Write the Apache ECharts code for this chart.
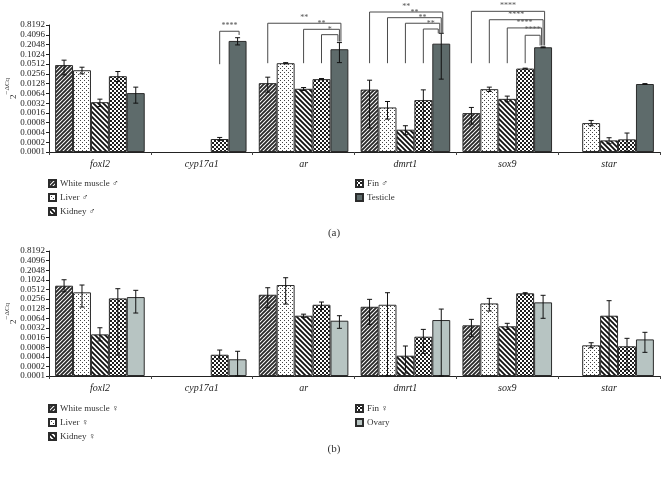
<!DOCTYPE html>
<html><head><meta charset="utf-8">
<script src="https://cdn.jsdelivr.net/npm/echarts@6/dist/echarts.min.js"></script>
<style>html,body{margin:0;padding:0;background:#fff}#c{width:668px;height:479px}</style>
</head><body><div id="c"></div>
<script>
// ---------- data ----------
const categories = ['foxl2', 'cyp17a1', 'ar', 'dmrt1', 'sox9', 'star'];
const tickLabels = ['0.0001','0.0002','0.0004','0.0008','0.0016','0.0032','0.0064','0.0128','0.0256','0.0512','0.1024','0.2048','0.4096','0.8192'];
const namesA = ['White muscle ♂', 'Liver ♂', 'Kidney ♂', 'Fin ♂', 'Testicle'];
const namesB = ['White muscle ♀', 'Liver ♀', 'Kidney ♀', 'Fin ♀', 'Ovary'];

// (a) male
const wmA      = [0.0476, null, 0.01325, 0.00839, 0.00158, null];
const wmA_lo   = [0.0239, null, 0.0070, 0.000546, 0.000726, null];
const wmA_hi   = [0.0676, null, 0.0202, 0.01632, 0.00236, null];
const liverA    = [0.0331, null, 0.0545, 0.00236, 0.00863, 0.000778];
const liverA_lo = [0.0256, null, 0.0523, 0.00103, 0.0073, 0.000645];
const liverA_hi = [0.0410, null, 0.0568, 0.0036, 0.00997, 0.000938];
const kidneyA    = [0.00343, null, 0.00887, 0.000486, 0.00434, 0.000228];
const kidneyA_lo = [0.00253, null, 0.00783, 0.000341, 0.00353, 0.00018];
const kidneyA_hi = [0.00425, null, 0.0097, 0.000645, 0.00527, 0.000275];
const finA    = [0.0217, 0.000251, 0.0176, 0.00397, 0.0372, 0.000245];
const finA_lo = [0.0148, 0.000228, 0.0169, 0.000112, 0.0362, 0.0001];
const finA_hi = [0.0302, 0.000281, 0.01835, 0.00821, 0.0383, 0.000384];
const testicle    = [0.00653, 0.2646, 0.1468, 0.2179, 0.1687, 0.01245];
const testicle_lo = [0.0032, 0.1992, 0.0568, 0.0176, 0.1640, 0.0121];
const testicle_hi = [0.00997, 0.3328, 0.2353, 0.4547, 0.1734, 0.0128];

// (b) female
const wmB      = [0.0671, null, 0.035, 0.0147, 0.00386, null];
const wmB_lo   = [0.0433, null, 0.0137, 0.00414, 0.0017, null];
const wmB_hi   = [0.1031, null, 0.058, 0.0251, 0.00593, null];
const liverB    = [0.0416, null, 0.0705, 0.0170, 0.0187, 0.000913];
const liverB_lo = [0.0144, null, 0.0179, 0.0001, 0.0108, 0.000768];
const liverB_hi = [0.0705, null, 0.1193, 0.0405, 0.0269, 0.0011];
const kidneyB    = [0.00201, null, 0.00772, 0.000432, 0.0036, 0.00772];
const kidneyB_lo = [0.00125, null, 0.00686, 0.000123, 0.00288, 0.0001];
const kidneyB_hi = [0.00324, null, 0.00863, 0.000869, 0.00446, 0.0228];
const finB    = [0.0269, 0.000463, 0.0170, 0.0017, 0.0388, 0.000851];
const finB_lo = [0.000453, 0.000341, 0.0122, 0.000513, 0.0372, 0.000154];
const finB_hi = [0.0541, 0.00065, 0.0207, 0.00288, 0.0405, 0.00151];
const ovary    = [0.0296, 0.000334, 0.00538, 0.00565, 0.0202, 0.0014];
const ovary_lo = [0.00937, 0.0001, 0.00311, 0.0001, 0.0064, 0.00055];
const ovary_hi = [0.0481, 0.000594, 0.00772, 0.01245, 0.0336, 0.00233];

// significance brackets in (a): category, from series, label
const sigCategory = ['cyp17a1', 'ar', 'ar', 'ar', 'dmrt1', 'dmrt1', 'dmrt1', 'dmrt1', 'sox9', 'sox9', 'sox9', 'sox9'];
const sigFrom     = [3, 0, 2, 3, 0, 1, 2, 3, 0, 1, 2, 3];
const sigLabel    = ['****', '**', '**', '*', '**', '**', '**', '**', '****', '****', '****', '****'];
// bracket heights in axis steps (log2 above 0.0001)
const sigTop      = [12.36, 13.18, 12.56, 12.01, 14.33, 13.75, 13.18, 12.59, 14.40, 13.54, 12.70, 11.95];
const sigFootL    = [8.99, 9.09, 9.09, 9.09, 9.09, 9.09, 9.09, 9.09, 9.09, 9.09, 9.09, 9.09];
const sigFootR    = [11.98, 11.3, 11.3, 11.3, 12.15, 12.15, 12.15, 12.15, 10.9, 10.9, 10.9, 10.9];
const sigRank     = [0, 0, 1, 2, 0, 1, 2, 3, 0, 1, 2, 3];

// ---------- helpers ----------
const BASE = 0.0001;
const L = v => (v == null ? null : Math.log2(v / BASE));

function pattern(kind) {
  const c = document.createElement('canvas');
  let ctx;
  if (kind === 'wm') {
    c.width = c.height = 4; ctx = c.getContext('2d');
    ctx.fillStyle = '#fff'; ctx.fillRect(0, 0, 4, 4);
    ctx.strokeStyle = '#2a2a2a'; ctx.lineWidth = 1.9;
    ctx.beginPath();
    ctx.moveTo(-1, 5); ctx.lineTo(5, -1);
    ctx.moveTo(-1, 1); ctx.lineTo(1, -1);
    ctx.moveTo(3, 5); ctx.lineTo(5, 3);
    ctx.stroke();
  } else if (kind === 'liver') {
    c.width = c.height = 4; ctx = c.getContext('2d');
    ctx.fillStyle = '#fff'; ctx.fillRect(0, 0, 4, 4);
    ctx.fillStyle = '#444';
    ctx.fillRect(0, 0, 1, 1); ctx.fillRect(2, 2, 1, 1);
  } else if (kind === 'kidney') {
    c.width = c.height = 5; ctx = c.getContext('2d');
    ctx.fillStyle = '#fff'; ctx.fillRect(0, 0, 5, 5);
    ctx.strokeStyle = '#111'; ctx.lineWidth = 1.8;
    ctx.beginPath();
    ctx.moveTo(-1, -1); ctx.lineTo(6, 6);
    ctx.moveTo(-1, 4); ctx.lineTo(1, 6);
    ctx.moveTo(4, -1); ctx.lineTo(6, 1);
    ctx.stroke();
  } else if (kind === 'fin') {
    c.width = c.height = 4; ctx = c.getContext('2d');
    ctx.fillStyle = '#1e1e1e'; ctx.fillRect(0, 0, 4, 4);
    ctx.fillStyle = '#fff';
    ctx.fillRect(0, 0, 2, 2); ctx.fillRect(2, 2, 2, 2);
  }
  return { image: c, repeat: 'repeat' };
}
const fills = [pattern('wm'), pattern('liver'), pattern('kidney'), pattern('fin')];
const TESTICLE_COLOR = '#5e6b6b';
const OVARY_COLOR = '#b7c4c2';
const SERIF = "'Liberation Serif', 'DejaVu Serif', serif";

const groupA = {
  names: namesA,
  vals: [wmA, liverA, kidneyA, finA, testicle],
  lo: [wmA_lo, liverA_lo, kidneyA_lo, finA_lo, testicle_lo],
  hi: [wmA_hi, liverA_hi, kidneyA_hi, finA_hi, testicle_hi],
  last: TESTICLE_COLOR
};
const groupB = {
  names: namesB,
  vals: [wmB, liverB, kidneyB, finB, ovary],
  lo: [wmB_lo, liverB_lo, kidneyB_lo, finB_lo, ovary_lo],
  hi: [wmB_hi, liverB_hi, kidneyB_hi, finB_hi, ovary_hi],
  last: OVARY_COLOR
};

const NS = 5, CAT_GAP = 0.12;
function barCenter(api, cat, si) {
  const c = api.coord([cat, 0]);
  const bw = api.size([1, 0])[0];
  const barW = bw * (1 - CAT_GAP) / NS;
  return c[0] - bw * (1 - CAT_GAP) / 2 + (si + 0.5) * barW;
}

const series = [];
[groupA, groupB].forEach((g, gi) => {
  g.vals.forEach((arr, si) => {
    series.push({
      type: 'bar', name: g.names[si], xAxisIndex: gi, yAxisIndex: gi,
      data: arr.map(L),
      barGap: '0%', barCategoryGap: (CAT_GAP * 100) + '%',
      itemStyle: { color: si < 4 ? fills[si] : g.last, borderColor: '#2b2b2b', borderWidth: 1 },
      emphasis: { disabled: true }, silent: true
    });
  });
  const errData = [];
  g.vals.forEach((arr, si) => {
    arr.forEach((v, ci) => {
      if (v != null) errData.push([ci, L(g.lo[si][ci]), L(g.hi[si][ci]), si]);
    });
  });
  series.push({
    type: 'custom', xAxisIndex: gi, yAxisIndex: gi, z: 5, silent: true,
    data: errData,
    renderItem(params, api) {
      const cat = api.value(0), si = api.value(3);
      const x = barCenter(api, cat, si);
      const y1 = api.coord([cat, api.value(1)])[1];
      const y2 = api.coord([cat, api.value(2)])[1];
      const st = { stroke: '#111', lineWidth: 1 };
      return { type: 'group', children: [
        { type: 'line', shape: { x1: x, y1: y1, x2: x, y2: y2 }, style: st },
        { type: 'line', shape: { x1: x - 2.5, y1: y1, x2: x + 2.5, y2: y1 }, style: st },
        { type: 'line', shape: { x1: x - 2.5, y1: y2, x2: x + 2.5, y2: y2 }, style: st }
      ]};
    }
  });
});

// significance brackets
series.push({
  type: 'custom', xAxisIndex: 0, yAxisIndex: 0, z: 6, silent: true, clip: false,
  data: sigCategory.map((c, i) => [categories.indexOf(c), sigFrom[i], sigTop[i], sigFootL[i], sigFootR[i], sigRank[i]]),
  renderItem(params, api) {
    const cat = api.value(0);
    const x1 = barCenter(api, cat, api.value(1));
    const x2 = barCenter(api, cat, 4) + 1.5 - api.value(5) * 1.5;
    const yT = api.coord([cat, api.value(2)])[1];
    const yL = api.coord([cat, api.value(3)])[1];
    const yR = api.coord([cat, api.value(4)])[1];
    return { type: 'group', children: [
      { type: 'polyline', shape: { points: [[x1, yL], [x1, yT], [x2, yT], [x2, yR]] },
        style: { stroke: '#4a4a4a', lineWidth: 1, fill: null } },
      { type: 'text', x: (x1 + x2) / 2, y: yT - 1,
        style: { text: sigLabel[params.dataIndex], fill: '#555', font: "8px " + SERIF,
                 align: 'center', verticalAlign: 'bottom' } }
    ]};
  }
});

function xAxis(gi) {
  return {
    type: 'category', gridIndex: gi, data: categories,
    axisLine: { lineStyle: { color: '#222', width: 1 } },
    axisTick: { show: true, length: 3, alignWithLabel: false, lineStyle: { color: '#444' } },
    axisLabel: { fontFamily: SERIF, fontStyle: 'italic', fontSize: 10, color: '#222', margin: 7 }
  };
}
function yAxis(gi) {
  return {
    type: 'value', gridIndex: gi, min: 0, max: 13, interval: 1,
    name: '{b|2}{s|−ΔCq}', nameLocation: 'middle', nameRotate: 90, nameGap: 31,
    nameMoveOverlap: false,
    nameTextStyle: { fontFamily: SERIF, color: '#333',
      rich: { b: { fontFamily: SERIF, fontSize: 9, color: '#333', lineHeight: 14, verticalAlign: 'bottom' },
              s: { fontFamily: SERIF, fontSize: 7, color: '#333', lineHeight: 14, verticalAlign: 'top' } } },
    axisLine: { show: true, lineStyle: { color: '#222', width: 1 } },
    axisTick: { show: true, length: 3, lineStyle: { color: '#222' } },
    splitLine: { show: false },
    axisLabel: { formatter: v => tickLabels[v] || '', fontFamily: SERIF, fontSize: 9, color: '#222', margin: 4 }
  };
}
function legend(names, left, top) {
  return {
    data: names, orient: 'vertical', left: left, top: top, icon: 'rect', padding: 0,
    itemWidth: 7, itemHeight: 7, itemGap: 5, selectedMode: false,
    textStyle: { fontFamily: SERIF, fontSize: 9, color: '#333', padding: [0, 0, 0, -1] }
  };
}

const option = {
  animation: false,
  backgroundColor: '#fff',
  title: [
    { text: '(a)', left: 'center', top: 223, textStyle: { fontFamily: SERIF, fontSize: 11, fontWeight: 'normal', color: '#333' } },
    { text: '(b)', left: 'center', top: 439, textStyle: { fontFamily: SERIF, fontSize: 11, fontWeight: 'normal', color: '#333' } }
  ],
  grid: [
    { left: 49, width: 611, top: 25, height: 127, containLabel: false, outerBoundsMode: 'none' },
    { left: 49, width: 611, top: 251, height: 125, containLabel: false, outerBoundsMode: 'none' }
  ],
  xAxis: [xAxis(0), xAxis(1)],
  yAxis: [yAxis(0), yAxis(1)],
  legend: [
    legend(namesA.slice(0, 3), 48, 179),
    legend(namesA.slice(3), 355, 179),
    legend(namesB.slice(0, 3), 48, 404),
    legend(namesB.slice(3), 355, 404)
  ],
  series: series
};
const chart = echarts.init(document.getElementById('c'), null, { renderer: 'canvas' });
chart.setOption(option);
</script></body></html>
